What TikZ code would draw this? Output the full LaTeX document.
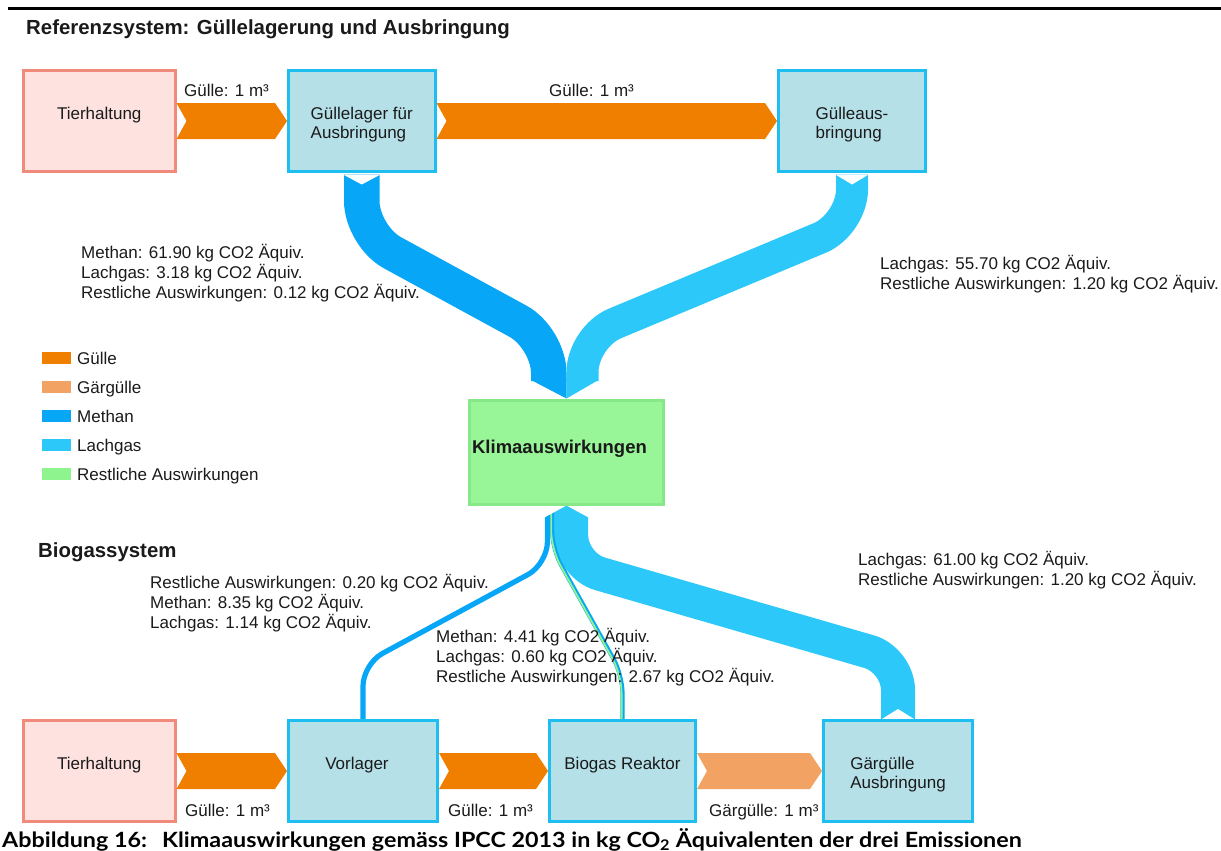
\documentclass[tikz,border=0pt]{standalone}
\usepackage{fontspec}
\setmainfont{Liberation Sans}
\newfontfamily\capfont{Lato}
\usetikzlibrary{calc}
\definecolor{gulle}{HTML}{F07F00}
\definecolor{gaer}{HTML}{F2A263}
\definecolor{methan}{HTML}{08A6F6}
\definecolor{lachgas}{HTML}{2CC8FA}
\definecolor{rest}{HTML}{8EF48E}
\definecolor{pinkfill}{HTML}{FDE2E0}
\definecolor{pinkline}{HTML}{F08A7A}
\definecolor{bluefill}{HTML}{B5E0E8}
\definecolor{blueline}{HTML}{1EBEF0}
\definecolor{klfill}{HTML}{98F598}
\definecolor{klline}{HTML}{86E886}
\definecolor{txt}{HTML}{1A1A1A}
\newcommand\gflow[3]{%
  \fill[#1] let \p1=(#2.east), \p2=(#3.west) in
    (\x1,\y1+18pt) -- (\x2-12pt,\y1+18pt) -- (\x2,\y1) -- (\x2-12pt,\y1-18pt)
    -- (\x1,\y1-18pt) -- (\x1+10pt,\y1) -- cycle;}
\newcommand\twolines[2]{\begin{tabular}[t]{@{}l@{}}#1\\#2\end{tabular}}
\newcommand\capwide[1]{\scalebox{1.11}[1]{#1}}
\begin{document}
\begin{tikzpicture}[x=1pt,y=-1pt,
  every node/.style={font=\fontsize{17}{19}\selectfont, text=txt, inner sep=0pt},
  pinkbox/.style={draw=pinkline, fill=pinkfill, line width=3pt, minimum height=101pt},
  bluebox/.style={draw=blueline, fill=bluefill, line width=3pt, minimum height=101pt},
  klimabox/.style={draw=klline, fill=klfill, line width=3pt, minimum height=104pt,
     minimum width=194pt, font=\fontsize{18.5}{20}\selectfont\bfseries, text height=13pt, text depth=10pt},
  boxtext/.style={text height=12pt, text depth=15pt},
  head/.style={font=\fontsize{20.4}{24}\selectfont\bfseries, anchor=base west},
  lbl/.style={anchor=base west},
  captext/.style={anchor=base west, font=\capfont\bfseries\fontsize{21}{24}\selectfont, text=black},
  band/.style={line cap=butt}
]
\useasboundingbox (0,0) rectangle (1221,851);
% top rule
\draw[line width=3pt] (8,8.5) -- (1221,8.5);
\node[head] (title) at (26,35) {Referenzsystem: Güllelagerung und Ausbringung};
\node[head] (bio) at (38,557) {Biogassystem};

% ---- box centres ----
\path
  (99.25,121) coordinate (c-th1)
  (361.75,121) coordinate (c-gl)
  (852,121) coordinate (c-ga)
  (566.5,452) coordinate (c-kl)
  (99.25,771) coordinate (c-th2)
  (363,771) coordinate (c-vl)
  (622.5,771) coordinate (c-br)
  (898,771) coordinate (c-gga);

% ---- box shapes for anchors (the visible boxes are drawn on top of the bands) ----
\node[pinkbox, draw=none, fill=none, minimum width=151.5pt] (th1) at (c-th1) {};
\node[bluebox, draw=none, fill=none, minimum width=146.5pt] (gl) at (c-gl) {};
\node[bluebox, draw=none, fill=none, minimum width=147pt] (ga) at (c-ga) {};
\node[klimabox, draw=none, fill=none] (kl) at (c-kl) {};
\node[pinkbox, draw=none, fill=none, minimum width=151.5pt] (th2) at (c-th2) {};
\node[bluebox, draw=none, fill=none, minimum width=149pt] (vl) at (c-vl) {};
\node[bluebox, draw=none, fill=none, minimum width=146pt] (br) at (c-br) {};
\node[bluebox, draw=none, fill=none, minimum width=149pt] (gga) at (c-gga) {};

% ---- bands: Referenzsystem ----
\draw[band, methan, line width=35.5pt, rounded corners=35pt]
  ($(gl.south)+(0,1.5)$) -- (361.75,236) -- (548.75,338) -- (548.75,381);
\draw[band, lachgas, line width=32pt, rounded corners=35pt]
  ($(ga.south)+(0,1.5)$) -- (852,224.5) -- (582.5,337) -- (582.5,381);
\fill[methan] (531,380) -- (566.5,380) -- (kl.north) -- cycle;
\fill[lachgas] (566.5,380) -- (598.5,380) -- (kl.north) -- cycle;
\fill[white] (343.75,174.9) -- (379.75,174.9) -- (361.75,184.5) -- cycle;
\fill[white] (836,174.9) -- (868,174.9) -- (852,184.5) -- cycle;

% ---- bands: Biogassystem ----
\draw[band, lachgas, line width=34pt, rounded corners=30pt]
  (gga.north) -- (898,660) -- (571.2,565.5) -- (571.2,505);
\draw[band, methan, line width=5.2pt, rounded corners=22pt]
  (vl.north) -- (363,664) -- (547.4,564) -- (547.4,505);
\draw[band, methan, line width=4.2pt, rounded corners=18pt]
  (br.north) -- (622.5,675) -- (552.1,549) -- (552.1,505);
\draw[band, rest, line width=1.8pt, rounded corners=18pt]
  ($(br.north)+(-0.9,0)$) -- (621.6,675) -- (551.2,549) -- (551.2,505);
\fill[white] (kl.south) -- (538,505.4) -- (538,521) -- cycle;
\fill[white] (kl.south) -- (595,505.4) -- (595,521) -- cycle;
\fill[white] (881,719.6) -- (915,719.6) -- (898,709) -- cycle;

% ---- boxes ----
\node[pinkbox, minimum width=151.5pt, boxtext] at (c-th1) {Tierhaltung};
\node[bluebox, minimum width=146.5pt, boxtext] at (c-gl) {\twolines{Güllelager für}{Ausbringung}};
\node[bluebox, minimum width=147pt, boxtext] at (c-ga) {\twolines{Gülleaus-}{bringung}};
\node[klimabox] at (c-kl) {Klimaauswirkungen\hspace*{14pt}};
\node[pinkbox, minimum width=151.5pt, boxtext] at (c-th2) {Tierhaltung};
\node[bluebox, minimum width=149pt, boxtext] at (c-vl) {Vorlager\hspace*{12pt}};
\node[bluebox, minimum width=146pt, boxtext] at (c-br) {Biogas Reaktor};
\node[bluebox, minimum width=149pt, boxtext] at (c-gga) {\twolines{Gärgülle}{Ausbringung}};

% ---- Gülle arrows ----
\gflow{gulle}{th1}{gl}
\gflow{gulle}{gl}{ga}
\gflow{gulle}{th2}{vl}
\gflow{gulle}{vl}{br}
\gflow{gaer}{br}{gga}

\node[lbl] (a1) at (184,96) {Gülle: 1 m³};
\node[lbl] (a2) at (549,96) {Gülle: 1 m³};
\node[lbl] (a3) at (185,816) {Gülle: 1 m³};
\node[lbl] (a4) at (448,816) {Gülle: 1 m³};
\node[lbl] (a5) at (709,816) {Gärgülle: 1 m³};

% ---- emission texts ----
\node[lbl] (ea1) at (81,258) {Methan: 61.90 kg CO2 Äquiv.};
\node[lbl] (ea2) at (81,278) {Lachgas: 3.18 kg CO2 Äquiv.};
\node[lbl] (ea3) at (81,298) {Restliche Auswirkungen: 0.12 kg CO2 Äquiv.};
\node[lbl] (eb1) at (880,269) {Lachgas: 55.70 kg CO2 Äquiv.};
\node[lbl] (eb2) at (880,289) {Restliche Auswirkungen: 1.20 kg CO2 Äquiv.};
\node[lbl] (ec1) at (150,588) {Restliche Auswirkungen: 0.20 kg CO2 Äquiv.};
\node[lbl] (ec2) at (150,608) {Methan: 8.35 kg CO2 Äquiv.};
\node[lbl] (ec3) at (150,628) {Lachgas: 1.14 kg CO2 Äquiv.};
\node[lbl] (ed1) at (436,642) {Methan: 4.41 kg CO2 Äquiv.};
\node[lbl] (ed2) at (436,662) {Lachgas: 0.60 kg CO2 Äquiv.};
\node[lbl] (ed3) at (436,682) {Restliche Auswirkungen: 2.67 kg CO2 Äquiv.};
\node[lbl] (ee1) at (858,565) {Lachgas: 61.00 kg CO2 Äquiv.};
\node[lbl] (ee2) at (858,585) {Restliche Auswirkungen: 1.20 kg CO2 Äquiv.};

% ---- legend ----
\fill[gulle] (42,352) rectangle (71,364);
\fill[gaer] (42,381) rectangle (71,393);
\fill[methan] (42,410) rectangle (71,422);
\fill[lachgas] (42,439) rectangle (71,451);
\fill[rest] (42,468) rectangle (71,480);
\node[lbl] (lg1) at (77,364) {Gülle};
\node[lbl] (lg2) at (77,393) {Gärgülle};
\node[lbl] (lg3) at (77,422) {Methan};
\node[lbl] (lg4) at (77,451) {Lachgas};
\node[lbl] (lg5) at (77,480) {Restliche Auswirkungen};

% ---- caption ----
\node[captext] (cap1) at (2,847) {\capwide{Abbildung 16:}};
\node[captext] (cap2) at (162,847) {\capwide{Klimaauswirkungen gemäss IPCC 2013 in kg CO\textsubscript{2} Äquivalenten der drei Emissionen}};
\end{tikzpicture}
\end{document}
